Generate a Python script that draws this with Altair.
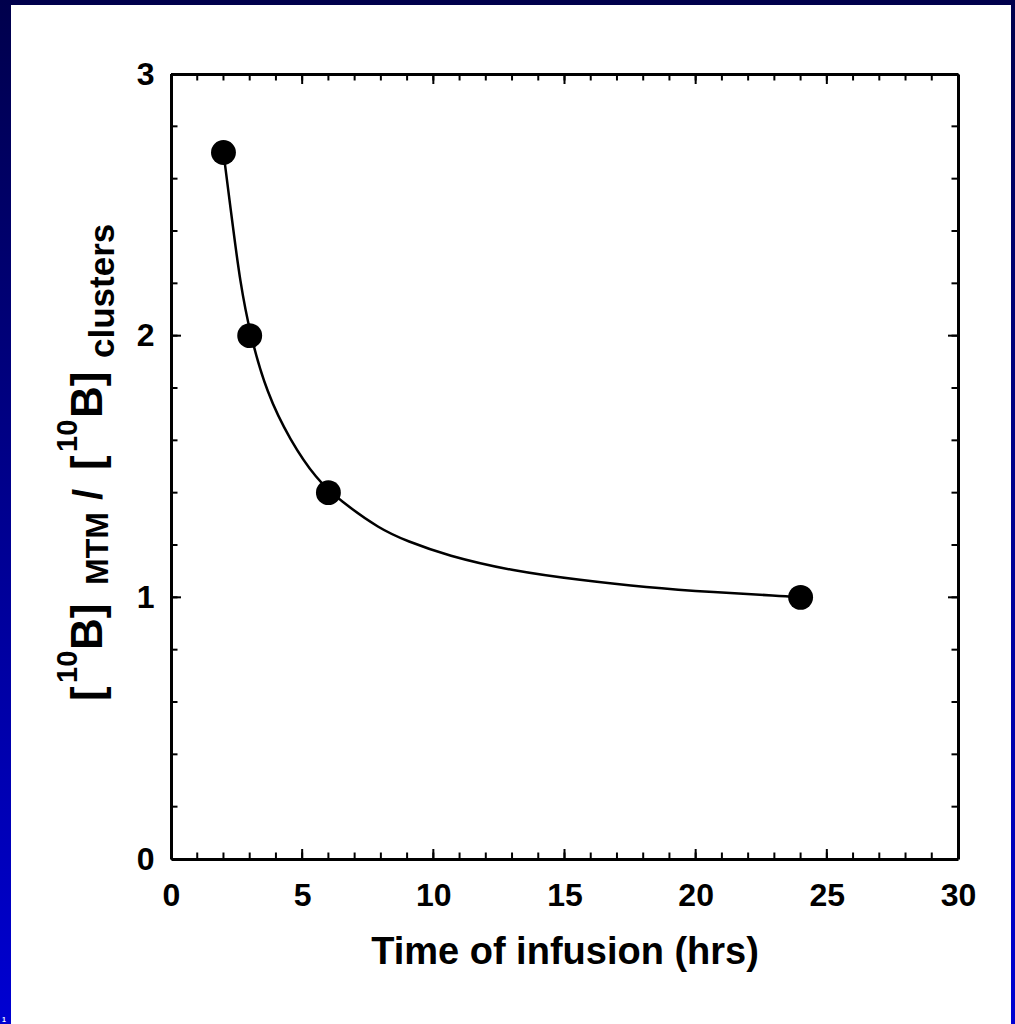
import altair as alt
import pandas as pd

# ---- data ----
times = [2, 3, 6, 24]
ratios = [2.7, 2.0, 1.4, 1.0]

curve_t = [2.0, 2.38, 2.63, 3.0, 3.65, 4.54, 5.55, 6.44, 7.97, 9.0, 10.5, 13.05, 15.6, 18.1, 20.7, 23.2, 24.0]
curve_r = [2.70, 2.40, 2.21, 2.01, 1.78, 1.60, 1.45, 1.37, 1.26, 1.215, 1.16, 1.10, 1.066, 1.038, 1.019, 1.006, 1.0]

x_minor = [0, 1, 2, 3, 4, 5, 6, 7, 8, 9, 10, 11, 12, 13, 14, 15, 16, 17, 18, 19, 20,
           21, 22, 23, 24, 25, 26, 27, 28, 29, 30]
x_major = [0, 5, 10, 15, 20, 25, 30]
y_minor = [0.0, 0.2, 0.4, 0.6, 0.8, 1.0, 1.2, 1.4, 1.6, 1.8, 2.0, 2.2, 2.4, 2.6, 2.8, 3.0]
y_major = [0, 1, 2, 3]

x_title = "Time of infusion (hrs)"

# ---- layout ----
W, H = 787, 785
PL, PT = 171, 74
CW, CH = 1015, 1024
FONT = "Liberation Sans"
MINOR, MAJOR = 6.5, 10

xs = alt.Scale(domain=[0, 30], nice=False, zero=False)
ys = alt.Scale(domain=[0, 3], nice=False, zero=False)

one = pd.DataFrame({"a": [0]})
pts = pd.DataFrame({"t": times, "r": ratios})
crv = pd.DataFrame({"t": curve_t, "r": curve_r})
dxm = pd.DataFrame({"v": x_minor})
dxM = pd.DataFrame({"v": x_major})
dym = pd.DataFrame({"v": y_minor})
dyM = pd.DataFrame({"v": y_major})

axis_common = dict(domain=True, domainColor="black", domainWidth=3, ticks=False,
                   grid=False, zindex=1, labelFont=FONT, labelFontSize=32,
                   labelFontWeight="bold", labelColor="black", labelFlush=False,
                   labelOverlap=False, titleFont=FONT,
                   titleFontSize=38, titleFontWeight="bold", titleColor="black")

bg = alt.Chart(one).mark_rect(
    fill=alt.Gradient(gradient="linear",
                      stops=[alt.GradientStop(color="#00004c", offset=0),
                             alt.GradientStop(color="#0000d2", offset=1)],
                      x1=0, x2=0, y1=0, y2=1)
).encode(x=alt.value(-PL), x2=alt.value(CW - PL), y=alt.value(-PT), y2=alt.value(CH - PT))

white = alt.Chart(one).mark_rect(color="white").encode(
    x=alt.value(11 - PL), x2=alt.value(1011 - PL), y=alt.value(5 - PT), y2=alt.value(CH - PT + 5))

slide_no = alt.Chart(one).mark_text(text="1", color="white", fontSize=7, font=FONT,
                                    fontWeight="bold", align="left", baseline="bottom").encode(
    x=alt.value(2 - PL), y=alt.value(CH - PT - 1))

# main points carry bottom and left axes
points = alt.Chart(pts).mark_circle(size=620, color="black", opacity=1).encode(
    x=alt.X("t:Q", scale=xs, axis=alt.Axis(orient="bottom", values=x_major, title=x_title,
                                           labelPadding=21, titlePadding=22, **axis_common)),
    y=alt.Y("r:Q", scale=ys, axis=alt.Axis(orient="left", values=y_major, title=None,
                                           labelPadding=17, **axis_common)),
)

line = alt.Chart(crv).mark_line(color="black", strokeWidth=2.5, interpolate="basis").encode(
    x=alt.X("t:Q", scale=xs, axis=None), y=alt.Y("r:Q", scale=ys, axis=None))

# ticks (inward) on all four sides
def xticks(data, length, top, axis=None):
    y0 = 0 if top else H
    y1 = length if top else H - length
    return alt.Chart(data).mark_rule(color="black", strokeWidth=2).encode(
        x=alt.X("v:Q", scale=xs, axis=axis), y=alt.value(y0), y2=alt.value(y1))

def yticks(data, length, right, axis=None):
    x0 = W if right else 0
    x1 = W - length if right else length
    return alt.Chart(data).mark_rule(color="black", strokeWidth=2).encode(
        y=alt.Y("v:Q", scale=ys, axis=axis), x=alt.value(x0), x2=alt.value(x1))

top_axis = alt.Axis(orient="top", labels=False, title=None, **axis_common)
right_axis = alt.Axis(orient="right", labels=False, title=None, **axis_common)

ticks = [
    xticks(dxm, MINOR, False), xticks(dxM, MAJOR, False),
    xticks(dxm, MINOR, True, top_axis), xticks(dxM, MAJOR, True),
    yticks(dym, MINOR, False), yticks(dyM, MAJOR, False),
    yticks(dym, MINOR, True, right_axis), yticks(dyM, MAJOR, True),
]

# y-axis title built from pieces (superscript / subscript)
def piece(txt, size, bx, by):
    return alt.Chart(one).mark_text(text=txt, font=FONT, fontSize=size, fontWeight="bold",
                                    color="black", angle=270, align="left",
                                    baseline="alphabetic").encode(
        x=alt.value(bx - PL), y=alt.value(by - PT))

title_parts = [
    piece("[", 44, 102, 701),
    piece("10", 29, 77, 683),
    piece("B]", 44, 102, 650),
    piece("MTM", 32, 108, 585),
    piece("/", 40, 102, 500),
    piece("[", 44, 102, 470),
    piece("10", 29, 77, 452),
    piece("B]", 44, 102, 418),
    piece("clusters", 35, 114, 358),
]

chart = alt.layer(bg, white, slide_no, line, *ticks, points, *title_parts).resolve_axis(
    x="independent", y="independent"
).properties(
    width=W, height=H,
    padding={"left": PL, "top": PT, "right": CW - PL - W, "bottom": CH - PT - H},
    autosize=alt.AutoSizeParams(type="none"),
    background="white",
).configure_view(stroke=None)

chart.save("out.html", embed_options={"renderer": "svg", "actions": False})
